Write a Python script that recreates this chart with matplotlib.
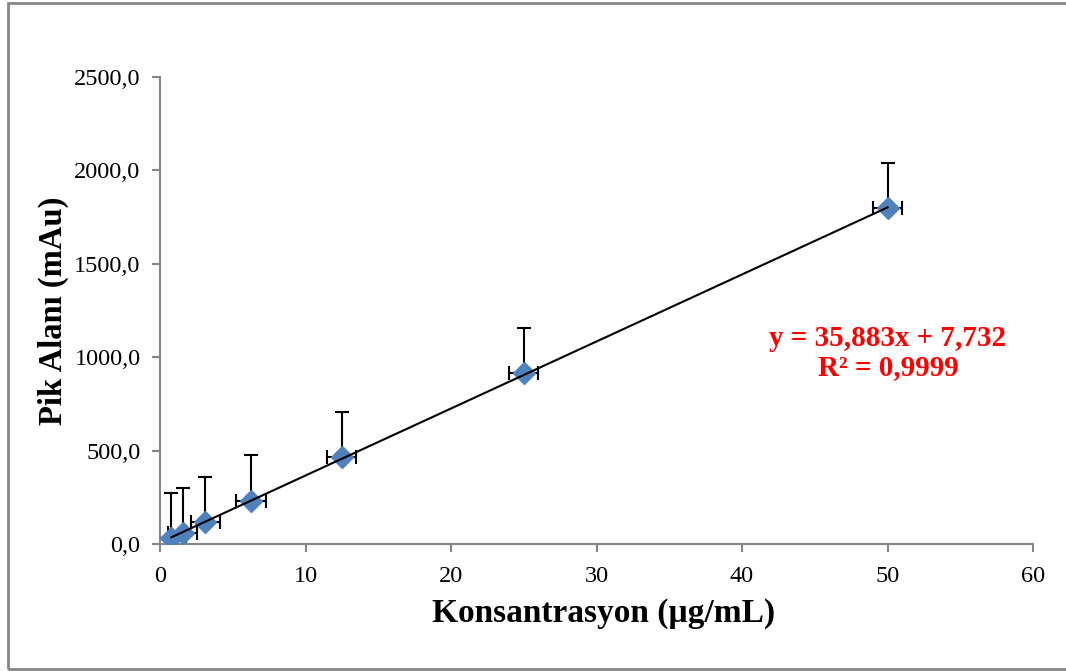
import numpy as np
import matplotlib
matplotlib.use("Agg")
import matplotlib.pyplot as plt
from matplotlib.ticker import FuncFormatter
from matplotlib.patches import Rectangle

# concentration (ug/mL) and peak area (mAu)
konsantrasyon = [0.78125, 1.5625, 3.125, 6.25, 12.5, 25, 50]
pik_alani = [30, 57, 119, 232, 467, 913, 1797]
y_hata = [245, 241, 239, 244, 241, 241, 241]
x_hata = [1, 1, 1, 1, 1, 1, 1]

egim = 35.883
kesisim = 7.732
r2 = "0,9999"

plt.rcParams['font.family'] = ['Liberation Serif', 'DejaVu Serif']

fig = plt.figure(figsize=(10.66, 6.71), dpi=100)
ax = fig.add_axes([0.1501, 0.1893, 0.819, 0.6959])

gray = '#868686'

# error bars: y only upward, x both sides
ax.errorbar(konsantrasyon, pik_alani,
            yerr=[np.zeros(len(y_hata)), y_hata], xerr=x_hata,
            fmt='none', ecolor='black', elinewidth=1.5, capsize=5,
            capthick=1.5, zorder=2)
ax.plot(konsantrasyon, pik_alani, linestyle='none', marker='D',
        markersize=11.5, color='#4F81BD', zorder=3)

# linear trendline
xs = np.array([min(konsantrasyon), max(konsantrasyon)])
ax.plot(xs, egim * xs + kesisim, color='black', linewidth=1.5, zorder=4)

ax.set_xlim(0, 60)
ax.set_ylim(0, 2500)
ax.set_xticks(range(0, 61, 10))
ax.set_yticks(range(0, 2501, 500))
ax.yaxis.set_major_formatter(FuncFormatter(lambda v, p: f"{v:.1f}".replace('.', ',')))

for s in ['top', 'right']:
    ax.spines[s].set_visible(False)
for s in ['left', 'bottom']:
    ax.spines[s].set_color(gray)
    ax.spines[s].set_linewidth(1.5)
ax.tick_params(direction='out', length=6, width=1.5, color=gray,
               labelsize=17.5)
ax.tick_params(axis='x', pad=10)
ax.tick_params(axis='y', pad=8)

ax.set_xlabel('Konsantrasyon (µg/mL)', fontsize=24, fontweight='bold', labelpad=8)
ax.xaxis.label.set_x(0.508)
ax.set_ylabel('Pik Alanı (mAu)', fontsize=23.5, fontweight='bold', labelpad=4)

fig.text(888 / 1066, 1 - 353 / 671,
         f"y = {egim:.3f}x + {kesisim:.3f}".replace('.', ',') + f"\nR² = {r2}",
         color='red', fontsize=21, fontweight='bold', ha='center', va='center',
         linespacing=1.1)

# outer chart border
fig.patches.append(Rectangle((8 / 1066, 2 / 671), 1.2, 666 / 671,
                             transform=fig.transFigure, fill=False,
                             edgecolor=gray, linewidth=2))

fig.savefig('out.png', dpi=100)
